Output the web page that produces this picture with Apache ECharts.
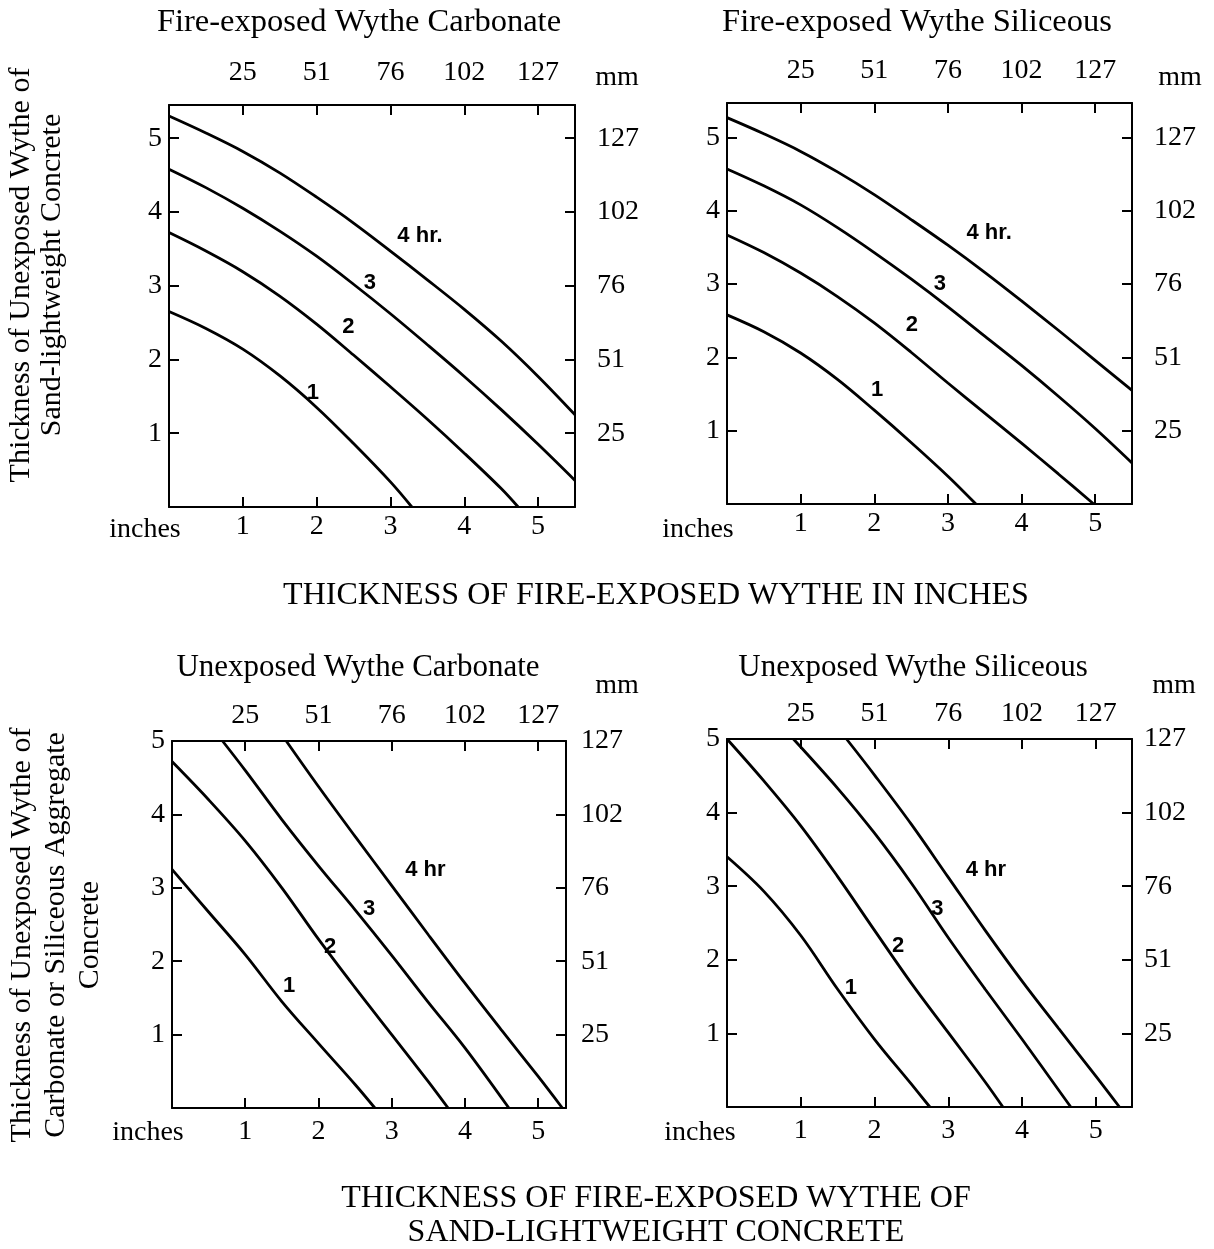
<!DOCTYPE html>
<html>
<head>
<meta charset="utf-8">
<script src="https://cdn.jsdelivr.net/npm/echarts@6/dist/echarts.min.js"></script>
<style>html,body{margin:0;padding:0;background:#fff;}#c{width:1214px;height:1249px;}</style>
</head>
<body>
<div id="c"></div>
<script>
// ---- tick labels ----
const inchTicks = [1, 2, 3, 4, 5];
const mmLabels = ['25', '51', '76', '102', '127'];

// ---- panel titles ----
const panelTitles = ['Fire-exposed Wythe Carbonate', 'Fire-exposed Wythe Siliceous',
                     'Unexposed Wythe Carbonate', 'Unexposed Wythe Siliceous'];

// ---- Panel 1: fire-exposed wythe carbonate (x: fire-exposed, y: unexposed sand-lightweight) ----
const fireCarb4h = [[0,5.30],[0.5,5.07],[1,4.82],[1.5,4.53],[2,4.20],[2.5,3.85],[3,3.47],[3.5,3.08],[4,2.68],[4.5,2.25],[5,1.77],[5.5,1.25]];
const fireCarb3h = [[0,4.58],[0.5,4.33],[1,4.05],[1.5,3.74],[2,3.40],[2.5,3.02],[3,2.62],[3.5,2.20],[4,1.77],[4.5,1.32],[5,0.85],[5.5,0.36]];
const fireCarb2h = [[0,3.72],[0.5,3.47],[1,3.19],[1.5,2.86],[2,2.48],[2.5,2.06],[3,1.63],[3.5,1.19],[4,0.73],[4.5,0.25],[4.73,0]];
const fireCarb1h = [[0,2.65],[0.5,2.42],[1,2.14],[1.5,1.78],[2,1.35],[2.5,0.86],[3,0.34],[3.29,0]];

// ---- Panel 2: fire-exposed wythe siliceous ----
const fireSil4h = [[0,5.27],[0.5,5.05],[1,4.81],[1.5,4.53],[2,4.22],[2.5,3.88],[3,3.53],[3.5,3.16],[4,2.77],[4.5,2.37],[5,1.96],[5.5,1.55]];
const fireSil3h = [[0,4.57],[0.5,4.34],[1,4.08],[1.5,3.77],[2,3.43],[2.5,3.07],[3,2.69],[3.5,2.29],[4,1.89],[4.5,1.47],[5,1.03],[5.5,0.56]];
const fireSil2h = [[0,3.67],[0.5,3.43],[1,3.15],[1.5,2.83],[2,2.47],[2.5,2.07],[3,1.65],[3.5,1.24],[4,0.83],[4.5,0.41],[4.98,0]];
const fireSil1h = [[0,2.58],[0.5,2.35],[1,2.06],[1.5,1.70],[2,1.28],[2.5,0.84],[3,0.38],[3.38,0]];

// ---- Panel 3: unexposed wythe carbonate ----
const unexCarb4h = [[1.56,5.0],[2,4.38],[2.5,3.70],[3,3.03],[3.5,2.36],[4,1.70],[4.5,1.06],[5,0.43],[5.33,0]];
const unexCarb3h = [[0.69,5.0],[1,4.60],[1.5,3.93],[2,3.30],[2.5,2.70],[3,2.08],[3.5,1.44],[4,0.82],[4.6,0]];
const unexCarb2h = [[0,4.72],[0.5,4.20],[1,3.64],[1.5,3.00],[2,2.30],[2.5,1.64],[3,1.00],[3.5,0.36],[3.77,0]];
const unexCarb1h = [[0,3.25],[0.5,2.67],[1,2.09],[1.5,1.45],[2,0.88],[2.5,0.32],[2.77,0]];

// ---- Panel 4: unexposed wythe siliceous ----
const unexSil4h = [[1.62,5.0],[2,4.51],[2.5,3.84],[3,3.12],[3.5,2.40],[4,1.71],[4.5,1.06],[5,0.42],[5.32,0]];
const unexSil3h = [[0.9,5.0],[1.5,4.33],[2,3.72],[2.5,3.04],[3,2.30],[3.5,1.60],[4,0.92],[4.66,0]];
const unexSil2h = [[0,5.0],[0.5,4.43],[1,3.82],[1.5,3.13],[2,2.40],[2.5,1.68],[3,1.01],[3.5,0.34],[3.74,0]];
const unexSil1h = [[0,3.40],[0.5,2.93],[1,2.33],[1.5,1.60],[2,0.92],[2.5,0.31],[2.75,0]];

// ---- curve label names and anchor points (data coords) ----
const curveNamesTop = ['4 hr.', '3', '2', '1'];
const curveNamesBottom = ['4 hr', '3', '2', '1'];
const fireCarbLabelPos = [[3.40,3.67],[2.72,3.04],[2.43,2.44],[1.95,1.55]];
const fireSilLabelPos  = [[3.56,3.70],[2.89,3.00],[2.51,2.44],[2.04,1.56]];
const unexCarbLabelPos = [[3.46,3.24],[2.69,2.71],[2.16,2.19],[1.60,1.66]];
const unexSilLabelPos  = [[3.51,3.22],[2.85,2.69],[2.32,2.19],[1.68,1.62]];

// ---- axis extents per panel ----
const xMaxes = [5.50, 5.50, 5.38, 5.49];
const yMaxes = [5.45, 5.47, 5.0, 5.0];

const SERIF = '"Liberation Serif", "Times New Roman", serif';
const SANS = '"Liberation Sans", Arial, sans-serif';

const panels = [
  { grid: {left:169, top:105, width:406, height:402}, curves:[fireCarb4h, fireCarb3h, fireCarb2h, fireCarb1h], names: curveNamesTop, pos: fireCarbLabelPos, m:{b:6, t:18, l:7, r:22} },
  { grid: {left:727, top:103, width:405, height:401}, curves:[fireSil4h, fireSil3h, fireSil2h, fireSil1h], names: curveNamesTop, pos: fireSilLabelPos, m:{b:6, t:18, l:7, r:22} },
  { grid: {left:172, top:741, width:394, height:367}, curves:[unexCarb4h, unexCarb3h, unexCarb2h, unexCarb1h], names: curveNamesBottom, pos: unexCarbLabelPos, m:{b:10, t:11, l:7, r:15} },
  { grid: {left:727, top:739, width:405, height:368}, curves:[unexSil4h, unexSil3h, unexSil2h, unexSil1h], names: curveNamesBottom, pos: unexSilLabelPos, m:{b:10, t:11, l:7, r:12} }
];

const inchFmt = v => inchTicks.indexOf(v) >= 0 ? String(v) : '';
const mmFmt = v => { const i = inchTicks.indexOf(v); return i >= 0 ? mmLabels[i] : ''; };

const axisLine = { show: true, onZero: false, lineStyle: { color: '#000', width: 2 } };
const axisTick = { show: true, inside: true, length: 10, lineStyle: { color: '#000', width: 2 } };
const labelBase = { color: '#000', fontFamily: SERIF, fontSize: 28 };

const grids = [], xAxes = [], yAxes = [], series = [];
panels.forEach((p, i) => {
  grids.push(Object.assign({ show: false, containLabel: false }, p.grid));
  xAxes.push({ type: 'value', gridIndex: i, position: 'bottom', min: 0, max: xMaxes[i], interval: 1,
    axisLine, axisTick, splitLine: { show: false },
    axisLabel: Object.assign({ formatter: inchFmt, margin: p.m.b, showMinLabel: false, showMaxLabel: false }, labelBase) });
  xAxes.push({ type: 'value', gridIndex: i, position: 'top', min: 0, max: xMaxes[i], interval: 1,
    axisLine, axisTick, splitLine: { show: false },
    axisLabel: Object.assign({ formatter: mmFmt, margin: p.m.t, showMinLabel: false, showMaxLabel: false }, labelBase) });
  yAxes.push({ type: 'value', gridIndex: i, position: 'left', min: 0, max: yMaxes[i], interval: 1,
    axisLine, axisTick, splitLine: { show: false },
    axisLabel: Object.assign({ formatter: inchFmt, margin: p.m.l, padding: [28, 0, 0, 0], showMinLabel: false }, labelBase) });
  yAxes.push({ type: 'value', gridIndex: i, position: 'right', min: 0, max: yMaxes[i], interval: 1,
    axisLine, axisTick, splitLine: { show: false },
    axisLabel: Object.assign({ formatter: mmFmt, margin: p.m.r, padding: [10, 0, 0, 0], showMinLabel: false }, labelBase) });
  p.curves.forEach((d, k) => {
    series.push({ type: 'line', name: p.names[k], xAxisIndex: 2 * i, yAxisIndex: 2 * i, data: d,
      showSymbol: false, smooth: 0.35, clip: true, silent: true,
      lineStyle: { color: '#000', width: 2.8 } });
  });
  series.push({ type: 'scatter', xAxisIndex: 2 * i, yAxisIndex: 2 * i, symbolSize: 0, silent: true,
    itemStyle: { color: '#000' },
    data: p.pos.map((xy, k) => ({ name: p.names[k], value: xy })),
    label: { show: true, position: 'inside', formatter: '{b}', color: '#000', opacity: 1,
      textBorderWidth: 0, textBorderColor: 'transparent',
      fontFamily: SANS, fontWeight: 'bold', fontSize: 22 } });
});

function txt(text, x, y, size, extra) {
  return Object.assign({ type: 'text', x, y, silent: true,
    style: { text, fill: '#000', font: size + 'px ' + SERIF, fontSize: size, fontFamily: SERIF,
      textAlign: 'center', textVerticalAlign: 'middle', align: 'center', verticalAlign: 'middle' } }, extra || {});
}

const graphics = [
  txt(panelTitles[0], 359, 22, 32.5),
  txt(panelTitles[1], 917, 22, 32.5),
  txt(panelTitles[2], 358, 668, 31),
  txt(panelTitles[3], 913, 668, 31),
  txt('mm', 617, 78, 28), txt('mm', 1180, 78, 28),
  txt('mm', 617, 686, 28), txt('mm', 1174, 686, 28),
  txt('inches', 145, 530, 28), txt('inches', 698, 530, 28),
  txt('inches', 148, 1133, 28), txt('inches', 700, 1133, 28),
  txt('THICKNESS OF FIRE-EXPOSED WYTHE IN INCHES', 656, 596, 32),
  txt('THICKNESS OF FIRE-EXPOSED WYTHE OF\nSAND-LIGHTWEIGHT CONCRETE', 656, 1216, 32),
  txt('Thickness of Unexposed Wythe of\nSand-lightweight Concrete', 37, 275, 30, { rotation: Math.PI / 2 }),
  txt('Thickness of Unexposed Wythe of\nCarbonate or Siliceous Aggregate\nConcrete', 56, 935, 30, { rotation: Math.PI / 2 })
];
graphics[13].style.lineHeight = 34;
graphics[14].style.lineHeight = 31;
graphics[15].style.lineHeight = 34;

const chart = echarts.init(document.getElementById('c'), null, { renderer: 'canvas' });
chart.setOption({
  backgroundColor: '#fff',
  animation: false,
  grid: grids,
  xAxis: xAxes,
  yAxis: yAxes,
  series,
  graphic: graphics
});
</script>
</body>
</html>
